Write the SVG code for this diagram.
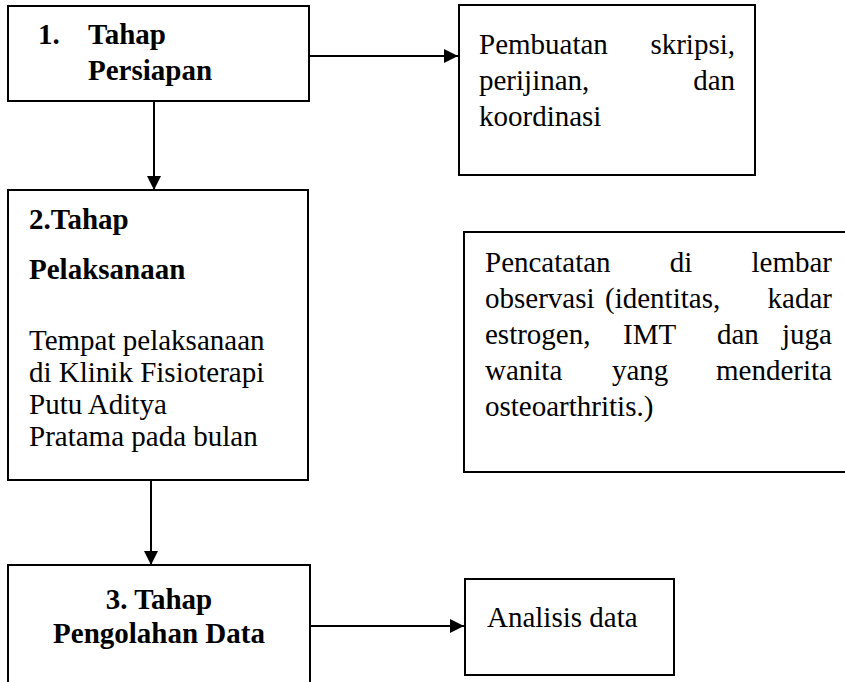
<svg xmlns="http://www.w3.org/2000/svg" width="845" height="682" viewBox="0 0 845 682">
<defs>
<style>
.box{fill:#fff;stroke:#000;stroke-width:2}
.b{font-family:"Liberation Serif","Times New Roman",serif;font-weight:bold;font-size:29px;fill:#000}
.r{font-family:"Liberation Serif","Times New Roman",serif;font-size:29px;fill:#000}
.e{text-anchor:end}
.m{text-anchor:middle}
.c{stroke:#000;stroke-width:2;fill:none}
</style>
<marker id="ah" viewBox="0 0 10 10" refX="10" refY="5" markerWidth="7" markerHeight="7" markerUnits="strokeWidth" orient="auto">
<path d="M0,0 L10,5 L0,10 z" fill="#000"/>
</marker>
</defs>
<g id="connectors">
<line class="c" x1="309" y1="56" x2="458" y2="56" marker-end="url(#ah)"/>
<line class="c" x1="154" y1="101" x2="154" y2="190" marker-end="url(#ah)"/>
<line class="c" x1="151" y1="480" x2="151" y2="565" marker-end="url(#ah)"/>
<line class="c" x1="310" y1="626" x2="464" y2="626" marker-end="url(#ah)"/>
</g>
<g id="persiapan">
<rect class="box" x="8" y="6" width="301" height="95"/>
<text class="b" x="38" y="44">1.</text>
<text class="b" x="88" y="44">Tahap</text>
<text class="b" x="88" y="80">Persiapan</text>
</g>
<g id="pembuatan">
<rect class="box" x="459" y="5" width="296" height="170"/>
<text class="r" x="479" y="54" font-size="28">Pembuatan</text>
<text class="r e" x="735" y="54" font-size="28">skripsi,</text>
<text class="r" x="479" y="90" font-size="28">perijinan,</text>
<text class="r e" x="735" y="90" font-size="28">dan</text>
<text class="r" x="479" y="126" font-size="28">koordinasi</text>
</g>
<g id="pelaksanaan">
<rect class="box" x="8" y="190" width="300" height="290"/>
<text class="b" x="29" y="229">2.Tahap</text>
<text class="b" x="29" y="279">Pelaksanaan</text>
<text class="r" x="29" y="350" font-size="30">Tempat pelaksanaan</text>
<text class="r" x="29" y="382" font-size="30">di Klinik Fisioterapi</text>
<text class="r" x="29" y="414" font-size="30">Putu Aditya</text>
<text class="r" x="29" y="446" font-size="30">Pratama pada bulan</text>
</g>
<g id="pencatatan">
<rect class="box" x="464" y="232" width="390" height="240"/>
<text class="r" x="485" y="272">Pencatatan</text>
<text class="r m" x="681" y="272">di</text>
<text class="r e" x="832" y="272">lembar</text>
<text class="r" x="485" y="308">observasi</text>
<text class="r" x="605" y="308">(identitas,</text>
<text class="r e" x="832" y="308">kadar</text>
<text class="r" x="485" y="344">estrogen,</text>
<text class="r" x="623" y="344">IMT</text>
<text class="r" x="717" y="344">dan</text>
<text class="r e" x="832" y="344">juga</text>
<text class="r" x="485" y="380">wanita</text>
<text class="r" x="612" y="380">yang</text>
<text class="r e" x="832" y="380">menderita</text>
<text class="r" x="485" y="416">osteoarthritis.)</text>
</g>
<g id="pengolahan">
<rect class="box" x="8" y="565" width="302" height="140"/>
<text class="b m" x="159" y="609">3. Tahap</text>
<text class="b m" x="159" y="643">Pengolahan Data</text>
</g>
<g id="analisis">
<rect class="box" x="465" y="579" width="209" height="96"/>
<text class="r" x="487" y="627">Analisis data</text>
</g>
</svg>
